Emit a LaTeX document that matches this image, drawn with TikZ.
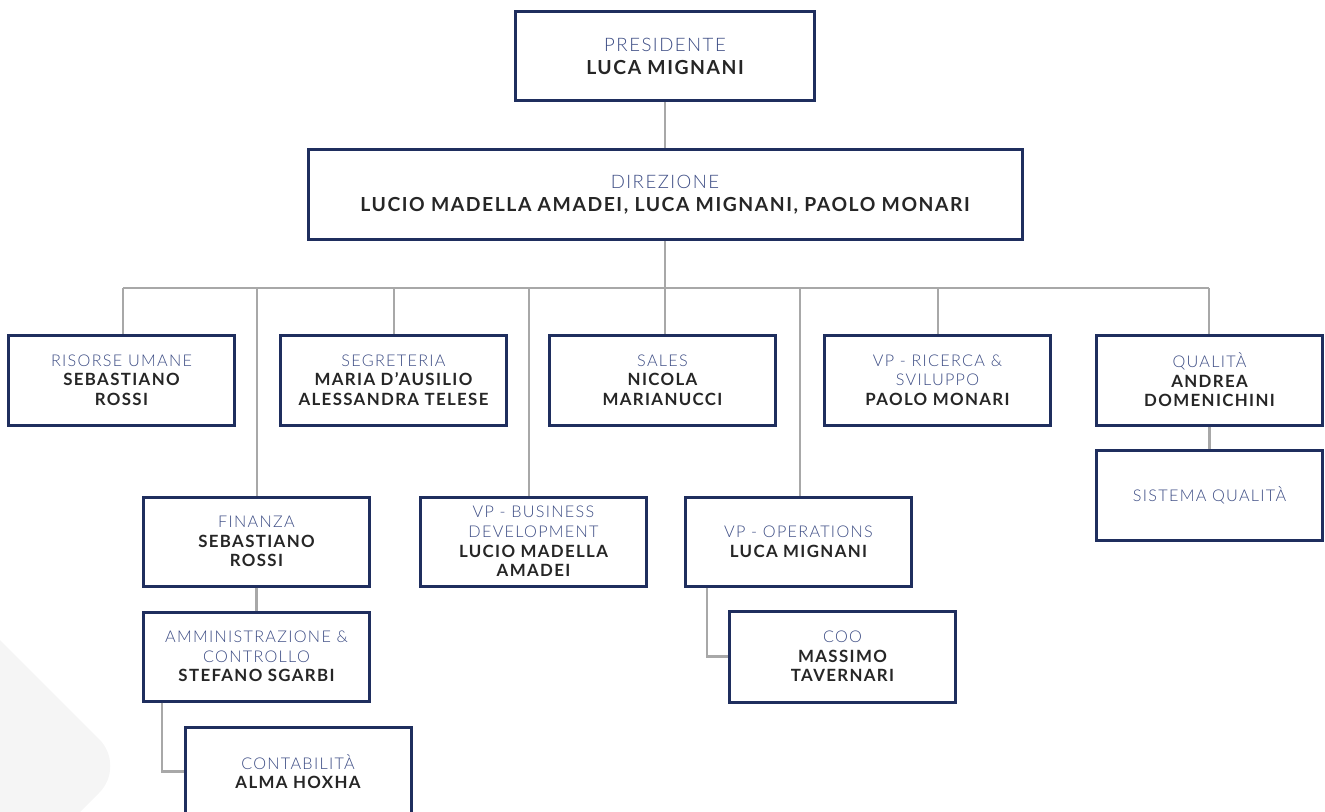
\documentclass[tikz,border=0pt]{standalone}
\usepackage{fontspec}
\setmainfont{Lato}
\newfontfamily\titlefont{Lato}[UprightFont=* Light, LetterSpace=8]
\newfontfamily\namefont{Lato}[UprightFont=* Bold, LetterSpace=8, Scale=1.04]

\definecolor{boxnavy}{HTML}{1F2E5E}
\definecolor{titlenavy}{HTML}{3C4C84}
\definecolor{namegray}{HTML}{262626}
\definecolor{linkgray}{HTML}{A8A8A8}
\definecolor{bgshade}{HTML}{F5F5F5}

\newcommand{\unitrole}[1]{{\titlefont\color{titlenavy}#1}}
\newcommand{\unitname}[1]{{\namefont\color{namegray}#1}}

\tikzset{
    unit/.style={draw=boxnavy, line width=1.5pt, fill=white, align=center,
        inner sep=0pt, minimum width=113pt, minimum height=45pt,
        font=\fontsize{8.1}{9.8}\selectfont},
    topunit/.style={unit, font=\fontsize{9.3}{11.5}\selectfont},
    link/.style={draw=linkgray, line width=1.3pt},
}

\begin{document}
\begin{tikzpicture}[x=0.5pt, y=-0.5pt]
            \useasboundingbox (0,0) rectangle (1325,812);

            % background shape
            \begin{scope}
                \clip (0,0) rectangle (1325,812);
                \fill[bgshade, rounded corners=19pt] (-200,440) -- (126,766) -- (-200,1092) -- cycle;
            \end{scope}

            \node[topunit, minimum width=149.5pt, minimum height=44.5pt] (pres) at (665,56.5)
                {\unitrole{PRESIDENTE}\\\unitname{LUCA MIGNANI}};
            \node[topunit, minimum width=357pt] (dir) at (665,195)
                {\unitrole{DIREZIONE}\\\unitname{LUCIO MADELLA AMADEI, LUCA MIGNANI, PAOLO MONARI}};

            % first row
            \node[unit] (hr) at (121.5,380) {\unitrole{RISORSE UMANE}\\\unitname{SEBASTIANO}\\\unitname{ROSSI}};
            \node[unit] (seg) at (393.5,380) {\unitrole{SEGRETERIA}\\\unitname{MARIA D’AUSILIO}\\\unitname{ALESSANDRA TELESE}};
            \node[unit] (sales) at (662.5,380) {\unitrole{SALES}\\\unitname{NICOLA}\\\unitname{MARIANUCCI}};
            \node[unit] (ric) at (937.5,380) {\unitrole{VP - RICERCA \&}\\\unitrole{SVILUPPO}\\\unitname{PAOLO MONARI}};
            \node[unit] (qual) at (1209.5,380) {\unitrole{QUALITÀ}\\\unitname{ANDREA}\\\unitname{DOMENICHINI}};
            \node[unit] (sist) at (1209.5,495.5) {\unitrole{SISTEMA QUALITÀ}};

            % second row
            \node[unit, minimum height=44.5pt] (fin) at (256.5,541.5) {\unitrole{FINANZA}\\\unitname{SEBASTIANO}\\\unitname{ROSSI}};
            \node[unit, minimum height=44.5pt] (amm) at (256.5,656.5) {\unitrole{AMMINISTRAZIONE \&}\\\unitrole{CONTROLLO}\\\unitname{STEFANO SGARBI}};
            \node[unit, minimum height=44.5pt] (cont) at (298,771.5) {\unitrole{CONTABILITÀ}\\\unitname{ALMA HOXHA}};
            \node[unit, minimum height=44.5pt] (vpbd) at (533.5,541.5) {\unitrole{VP - BUSINESS}\\\unitrole{DEVELOPMENT}\\\unitname{LUCIO MADELLA}\\\unitname{AMADEI}};
            \node[unit, minimum height=44.5pt] (vpops) at (798.5,541.5) {\unitrole{VP - OPERATIONS}\\\unitname{LUCA MIGNANI}};
            \node[unit, minimum height=45.5pt] (coo) at (842.5,656.5) {\unitrole{COO}\\\unitname{MASSIMO}\\\unitname{TAVERNARI}};

            \coordinate (bus) at (665,288);

            \draw[link] (pres.south) to (dir.north);
            \draw[link] (dir.south) to (bus);

            \foreach \n/\x in {hr/123,fin/257,seg/394,vpbd/529,sales/665,vpops/800,ric/938,qual/1209}{
                \coordinate (d\n) at (\x,288);
                \draw[link] (d\n) to (d\n |- \n.north);
            }
            \draw[link] (dhr) to (dqual);

            \draw[link] (fin.south) to (amm.north);
            \draw[link] (qual.south) to (sist.north);
            \draw[link] (amm.south west) ++(20,0) |- (cont.west);
            \draw[link] (vpops.south west) ++(23,0) |- (coo.west);
        \end{tikzpicture}
\end{document}
